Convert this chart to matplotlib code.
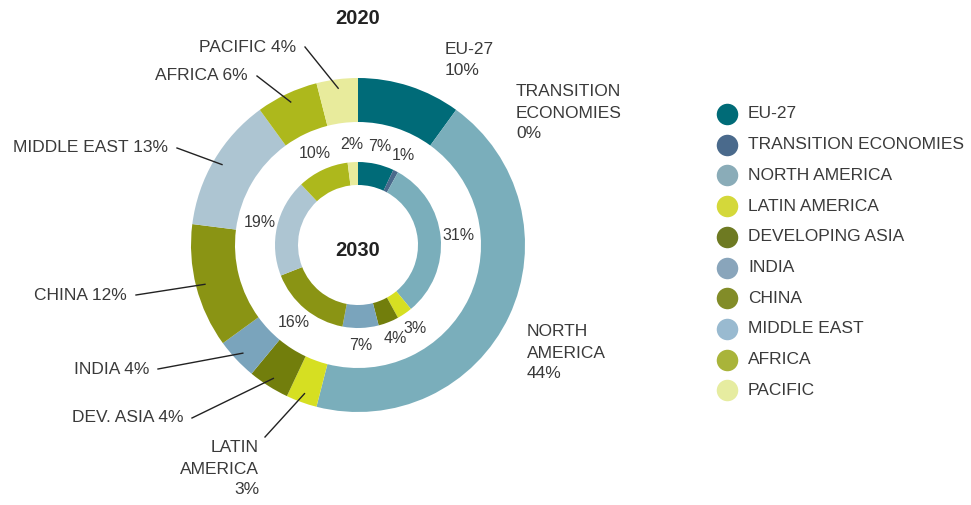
import numpy as np
import matplotlib.pyplot as plt

plt.rcParams['font.family'] = ['Liberation Sans', 'DejaVu Sans']

# data
regions = ["EU-27", "TRANSITION ECONOMIES", "NORTH AMERICA", "LATIN AMERICA",
           "DEVELOPING ASIA", "INDIA", "CHINA", "MIDDLE EAST", "AFRICA", "PACIFIC"]
share_2020 = [10, 0, 44, 3, 4, 4, 12, 13, 6, 4]
share_2030 = [7, 1, 31, 3, 4, 7, 16, 19, 10, 2]
outer_labels = ["EU-27\n10%", "TRANSITION\nECONOMIES\n0%", "NORTH\nAMERICA\n44%",
                "LATIN\nAMERICA\n3%", "DEV. ASIA 4%", "INDIA 4%", "CHINA 12%",
                "MIDDLE EAST 13%", "AFRICA 6%", "PACIFIC 4%"]

ring_colors = ["#006b78", "#4a6a8c", "#7aaebb", "#d6df22", "#727e0c",
               "#7aa4bc", "#8a9414", "#adc5d2", "#adb81c", "#e8eb9c"]
legend_colors = ["#006b77", "#4a6a8c", "#8aacb8", "#d4d83a", "#6e7a22",
                 "#89a5bb", "#828c28", "#99bad0", "#a9b43a", "#e6eca0"]

W, H = 971, 505
fig = plt.figure(figsize=(W / 100, H / 100), dpi=100)
ax = fig.add_axes([0, 0, 1, 1])


def py(y):
    # pixel row -> data y
    return H - y


cx, cy = 358, py(245)
text_col = "#3a3a3a"

ax.pie(share_2020, colors=ring_colors, startangle=90, counterclock=False,
       radius=167, center=(cx, cy), wedgeprops=dict(width=44, linewidth=0),
       frame=True)
ax.pie(share_2030, colors=ring_colors, startangle=90, counterclock=False,
       radius=83, center=(cx, cy), wedgeprops=dict(width=23, linewidth=0),
       frame=True)
ax.set_xlim(0, W)
ax.set_ylim(0, H)
ax.set_aspect('equal')
ax.axis('off')


def mid_angles(vals):
    c = np.cumsum(vals) - np.array(vals) / 2
    return np.deg2rad(90 - 360 * c / sum(vals))


# inner ring percentages
for v, a in zip(share_2030, mid_angles(share_2030)):
    ax.text(cx + 101 * np.cos(a), cy + 101 * np.sin(a), f"{v}%",
            ha='center', va='center', fontsize=11.5, color=text_col)

# outer labels: (x, y pixel, ha, leader?)
label_pos = [(445, 60, 'left', False), (516, 113, 'left', False),
             (527, 353, 'left', False), (259, 469, 'right', True),
             (183, 418, 'right', True), (149, 369, 'right', True),
             (127, 295, 'right', True), (168, 148, 'right', True),
             (248, 76, 'right', True), (296, 47, 'right', True)]

for lab, (x, y, ha, lead), a in zip(outer_labels, label_pos, mid_angles(share_2020)):
    ax.text(x, py(y), lab, ha=ha, va='center', fontsize=12.5, color=text_col,
            linespacing=1.5, multialignment=ha)
    if lead:
        if "\n" in lab:
            sx, sy = x + 6, py(437)
        else:
            sx, sy = x + 9, py(y)
        ex, ey = cx + 158 * np.cos(a), cy + 158 * np.sin(a)
        ax.plot([sx, ex], [sy, ey], color="#222222", lw=1)

ax.text(cx, py(18), "2020", ha='center', va='center', fontsize=14.5,
        fontweight='bold', color="#222222")
ax.text(cx, py(250), "2030", ha='center', va='center', fontsize=14.5,
        fontweight='bold', color="#222222")

# legend
for i, (name, col) in enumerate(zip(regions, legend_colors)):
    y = py(114 + i * 30.7)
    ax.scatter([727], [y], s=240, color=col, linewidths=0)
    ax.text(748, y, name, ha='left', va='center', fontsize=12.5, color=text_col)

fig.savefig("out.png", dpi=100)
